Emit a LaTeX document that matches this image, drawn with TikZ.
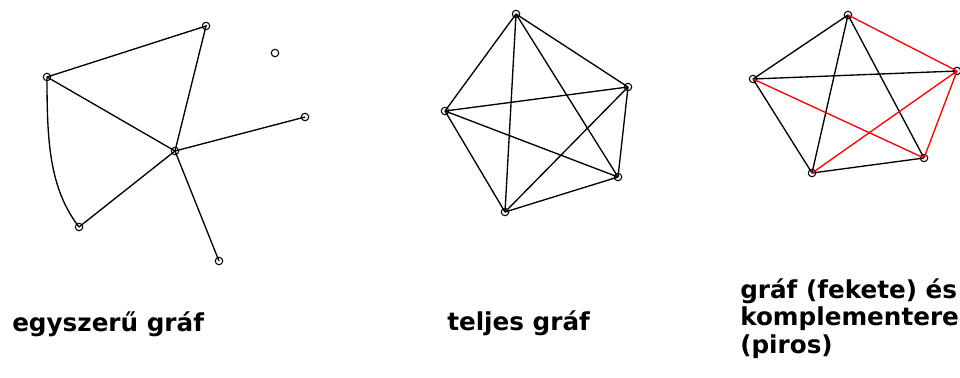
\documentclass[tikz,border=0pt]{standalone}
\usepackage{fontspec}
\setmainfont{DejaVu Sans}
\usetikzlibrary{positioning}

\begin{document}
\begin{tikzpicture}[x=0.75pt, y=-0.75pt,
  vertex/.style={draw, circle, minimum size=5.6pt, inner sep=0pt, line width=0.8pt},
  edge/.style={line width=1pt},
  compl/.style={edge, red},
  caption/.style={font=\bfseries\fontsize{18.5}{20.6}\selectfont, inner sep=0pt, align=left}
]
  \useasboundingbox (0,0) rectangle (960,378);

  % egyszeru graf
  \node[vertex] (s1) at (206,26) {};
  \node[vertex] (s2) at (275,53) {};
  \node[vertex] (s3) at (47,77) {};
  \node[vertex] (s4) at (305,117) {};
  \node[vertex] (s5) at (175,151) {};
  \node[vertex] (s6) at (79,227) {};
  \node[vertex] (s7) at (219,261) {};

  \draw[edge] (s3.center) -- (s1.center) -- (s5.center);
  \draw[edge] (s3.center) -- (s5.center);
  \draw[edge] (s3.center) .. controls (47,140) and (49,188) .. (s6.center);
  \draw[edge] (s5.center) -- (s4.center);
  \draw[edge] (s5.center) -- (s6.center);
  \draw[edge] (s5.center) -- (s7.center);

  % teljes graf
  \node[vertex] (t1) at (516,14) {};
  \node[vertex] (t2) at (628,87) {};
  \node[vertex] (t3) at (445,111) {};
  \node[vertex] (t4) at (618,177) {};
  \node[vertex] (t5) at (505,212) {};

  \foreach \a/\b in {t1/t2, t1/t3, t1/t4, t1/t5, t2/t3, t2/t4, t2/t5, t3/t4, t3/t5, t4/t5}
    \draw[edge] (\a.center) -- (\b.center);

  % graf es komplementere
  \node[vertex] (c1) at (848,15) {};
  \node[vertex] (c2) at (957,71) {};
  \node[vertex] (c3) at (753,79) {};
  \node[vertex] (c4) at (924,158) {};
  \node[vertex] (c5) at (812,173) {};

  \foreach \a/\b in {c1/c3, c1/c5, c1/c4, c3/c2, c3/c5, c5/c4}
    \draw[edge] (\a.center) -- (\b.center);
  \foreach \a/\b in {c1/c2, c2/c4, c2/c5, c3/c4}
    \draw[compl] (\a.center) -- (\b.center);

  \node[caption, anchor=base west] (lsimple) at (12,331) {egyszerű gráf};
  \node[caption, anchor=base west] (lfull) at (447,330) {teljes gráf};
  \node[caption, anchor=base west] (lcompl) at (740,353)
    {gráf (fekete) és\\komplementere\\(piros)};
\end{tikzpicture}
\end{document}
